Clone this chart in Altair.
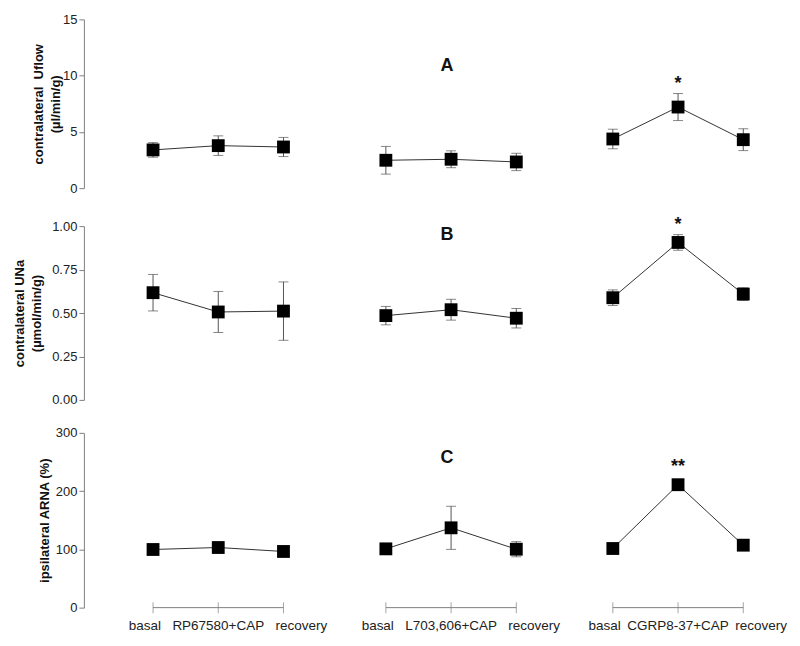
import altair as alt
import pandas as pd

# ---------------- data ----------------
treatments = ["RP67580+CAP", "L703,606+CAP", "CGRP8-37+CAP"]
phase_first = "basal"
phase_last = "recovery"

uflow_mean = [3.40, 3.78, 3.66, 2.48, 2.57, 2.33, 4.37, 7.21, 4.31]
uflow_sem = [0.65, 0.87, 0.85, 1.23, 0.75, 0.77, 0.87, 1.20, 0.97]

una_mean = [0.617, 0.506, 0.511, 0.485, 0.519, 0.470, 0.588, 0.906, 0.609]
una_sem = [0.105, 0.118, 0.168, 0.053, 0.060, 0.056, 0.045, 0.045, 0.036]

arna_mean = [99.8, 103.2, 96.4, 100.9, 137.0, 100.3, 101.5, 211.0, 107.2]
arna_sem = [3.0, 4.0, 3.0, 3.0, 37.0, 13.0, 3.0, 5.0, 4.0]

uflow_sig = ["", "", "", "", "", "", "", "*", ""]
una_sig = ["", "", "", "", "", "", "", "*", ""]
arna_sig = ["", "", "", "", "", "", "", "**", ""]

panel_letters = ["A", "B", "C"]
letter_values = [10.85, 0.95, 257]

# ---------------- layout constants ----------------
GROUP_START = [1.06, 4.63, 8.11]
X_DOMAIN = [0, 10.75]
PLOT_W = 702
FONT = "Liberation Sans"

rows = []
for g, t in enumerate(treatments):
    for s, ph in enumerate([phase_first, t, phase_last]):
        i = g * 3 + s
        rows.append(dict(
            group=t, step=s, label=ph, pos=GROUP_START[g] + s,
            uflow=uflow_mean[i], uflow_lo=uflow_mean[i] - uflow_sem[i], uflow_hi=uflow_mean[i] + uflow_sem[i],
            una=una_mean[i], una_lo=una_mean[i] - una_sem[i], una_hi=una_mean[i] + una_sem[i],
            arna=arna_mean[i], arna_lo=arna_mean[i] - arna_sem[i], arna_hi=arna_mean[i] + arna_sem[i],
            uflow_sig=uflow_sig[i], una_sig=una_sig[i], arna_sig=arna_sig[i],
        ))
df = pd.DataFrame(rows)

xscale = alt.Scale(domain=X_DOMAIN, nice=False, zero=False)
xenc = alt.X("pos:Q", scale=xscale, axis=None)
mid_pos = GROUP_START[1] + 1


def panel(key, domain, values, fmt, title, height, tpad, letter, letter_y, sig_dy, bottom=False):
    axis = alt.Axis(values=values, format=fmt, title=title, titlePadding=tpad)
    scale = alt.Scale(domain=domain, nice=False, zero=False)

    def Y(field):
        return alt.Y(f"{field}:Q", scale=scale, axis=axis)

    base = alt.Chart(df)
    err = base.mark_rule(color="#555555", strokeWidth=1).encode(x=xenc, y=Y(f"{key}_lo"), y2=f"{key}_hi:Q")
    cap_lo = base.mark_tick(orient="horizontal", size=10, thickness=1, color="#555555").encode(x=xenc, y=Y(f"{key}_lo"))
    cap_hi = base.mark_tick(orient="horizontal", size=10, thickness=1, color="#555555").encode(x=xenc, y=Y(f"{key}_hi"))
    line = base.mark_line(color="#333333", strokeWidth=1).encode(x=xenc, y=Y(key), detail="group:N")
    pts = base.mark_square(size=165, color="black", opacity=1).encode(x=xenc, y=Y(key))
    sig = base.transform_filter(f"datum.{key}_sig != ''").mark_text(
        font=FONT, fontSize=18, fontWeight="bold", dy=sig_dy, baseline="middle", color="#111"
    ).encode(x=xenc, y=Y(f"{key}_hi"), text=f"{key}_sig:N")
    lt = alt.Chart(pd.DataFrame({"t": [letter], "pos": [mid_pos], "v": [letter_y]})).mark_text(
        font=FONT, fontSize=18, fontWeight="bold", dx=-4, baseline="middle", color="#111"
    ).encode(x=xenc, y=alt.Y("v:Q", scale=scale, axis=axis), text="t:N")

    layers = [err, cap_lo, cap_hi, line, pts, sig, lt]

    if bottom:
        seg = base.transform_aggregate(start="min(pos)", end="max(pos)", groupby=["group"]).mark_rule(
            color="#808080", strokeWidth=1
        ).encode(x=alt.X("start:Q", scale=xscale, axis=None), x2="end:Q", y=alt.datum(0))
        ticks = base.mark_tick(orient="vertical", size=11, thickness=1, color="#808080").encode(
            x=xenc, y=alt.datum(0))
        lab_kw = dict(font=FONT, fontSize=13.5, baseline="middle", color="#222")
        l0 = base.transform_filter("datum.step == 0").mark_text(align="right", dx=8, **lab_kw).encode(
            x=xenc, y=alt.value(height + 18), text="label:N")
        l1 = base.transform_filter("datum.step == 1").mark_text(align="center", **lab_kw).encode(
            x=xenc, y=alt.value(height + 18), text="label:N")
        l2 = base.transform_filter("datum.step == 2").mark_text(align="left", dx=-8, **lab_kw).encode(
            x=xenc, y=alt.value(height + 18), text="label:N")
        layers = [seg, ticks] + layers + [l0, l1, l2]

    return alt.layer(*layers).properties(width=PLOT_W, height=height)


pA = panel("uflow", [0, 15], [0, 5, 10, 15], "d", ["contralateral\u00a0 Uflow", "(µl/min/g)"], 169, 0,
           panel_letters[0], letter_values[0], -10)
pB = panel("una", [0, 1], [0, 0.25, 0.5, 0.75, 1.0], ".2f", ["contralateral UNa", "(µmol/min/g)"], 174, 8,
           panel_letters[1], letter_values[1], -10)
pC = panel("arna", [0, 300], [0, 100, 200, 300], "d", "ipsilateral ARNA (%)", 175, 4,
           panel_letters[2], letter_values[2], -15, bottom=True)

chart = alt.vconcat(pA, pB, pC, spacing=20).configure_view(stroke=None).configure_axis(
    grid=False, labelFont=FONT, labelFontSize=13, labelColor="#222", labelPadding=2,
    titleFont=FONT, titleFontSize=13, titleFontWeight="bold", titleColor="#111", titleLineHeight=17,
    domainColor="#808080", tickColor="#808080", tickSize=5,
)

chart.save("out.html", embed_options={"renderer": "svg", "actions": False})
